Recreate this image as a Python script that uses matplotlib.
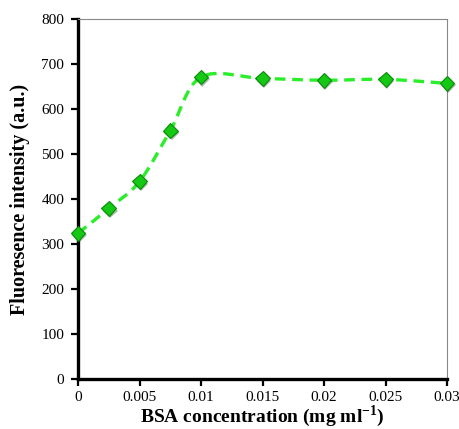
import numpy as np
import matplotlib.pyplot as plt
import matplotlib.patheffects as pe
from matplotlib.path import Path
from matplotlib.patches import PathPatch

plt.rcParams['font.family'] = ['Liberation Serif', 'DejaVu Serif']
plt.rcParams['mathtext.fontset'] = 'custom'
plt.rcParams['mathtext.rm'] = 'Liberation Serif'
plt.rcParams['mathtext.bf'] = 'Liberation Serif:bold'

# BSA concentration (mg/ml) and fluorescence intensity (a.u.)
bsa_conc = [0, 0.0025, 0.005, 0.0075, 0.01, 0.015, 0.02, 0.025, 0.03]
intensity = [324, 379, 439, 552, 671, 668, 664, 666, 657]

x_ticks = [0, 0.005, 0.01, 0.015, 0.02, 0.025, 0.03]
x_ticklabels = ['0', '0.005', '0.01', '0.015', '0.02', '0.025', '0.03']
y_ticks = [0, 100, 200, 300, 400, 500, 600, 700, 800]


def smooth_path(ax, xs, ys):
    """Excel style smoothed line: cubic Bezier segments with Catmull-Rom
    control points, built in display space so the curve follows the axes."""
    pts = ax.transData.transform(np.column_stack([xs, ys]))
    n = len(pts)
    verts = [pts[0]]
    codes = [Path.MOVETO]
    for i in range(n - 1):
        p0 = pts[i - 1] if i > 0 else pts[i]
        p1 = pts[i]
        p2 = pts[i + 1]
        p3 = pts[i + 2] if i + 2 < n else pts[i + 1]
        c1 = p1 + (p2 - p0) / 6.0
        c2 = p2 - (p3 - p1) / 6.0
        verts += [c1, c2, p2]
        codes += [Path.CURVE4] * 3
    return Path(verts, codes)


fig = plt.figure(figsize=(4.59, 4.29), dpi=100)
ax = fig.add_axes([0.170, 0.1166, 0.804, 0.839])

ax.set_xlim(0, 0.03)
ax.set_ylim(0, 800)
ax.set_xticks(x_ticks)
ax.set_xticklabels(x_ticklabels)
ax.set_yticks(y_ticks)

fig.canvas.draw()
curve = PathPatch(smooth_path(ax, bsa_conc, intensity), transform=None,
                  fill=False, edgecolor='#2aee2a', linewidth=2.4,
                  linestyle=(0, (3.2, 2.0)), zorder=3, clip_on=False)
ax.add_patch(curve)

ax.plot(bsa_conc, intensity, linestyle='none', marker='D', markersize=7.5,
        markerfacecolor='#14c814', markeredgecolor='#0a8a0a',
        markeredgewidth=0.8, zorder=4, clip_on=False,
        path_effects=[pe.SimplePatchShadow(offset=(1, -1.5), alpha=0.35),
                      pe.Normal()])

for side in ['left', 'bottom']:
    ax.spines[side].set_linewidth(2.4)
    ax.spines[side].set_color('black')
for side in ['top', 'right']:
    ax.spines[side].set_linewidth(0.8)
    ax.spines[side].set_color('#888888')

ax.tick_params(axis='both', direction='out', length=5, width=1.6,
               labelsize=11, colors='black')
ax.tick_params(axis='y', pad=5)
ax.tick_params(axis='x', pad=4)

ax.set_xlabel('BSA concentration (mg ml$^{\\mathbf{-1}}$)', fontsize=14,
              fontweight='bold')
ax.xaxis.set_label_coords(0.5, -0.121)
ax.xaxis.label.set_verticalalignment('baseline')
ax.set_ylabel('Fluoresence intensity (a.u.)', fontsize=14.5,
              fontweight='bold', labelpad=8)

fig.savefig('out.png', dpi=100)
